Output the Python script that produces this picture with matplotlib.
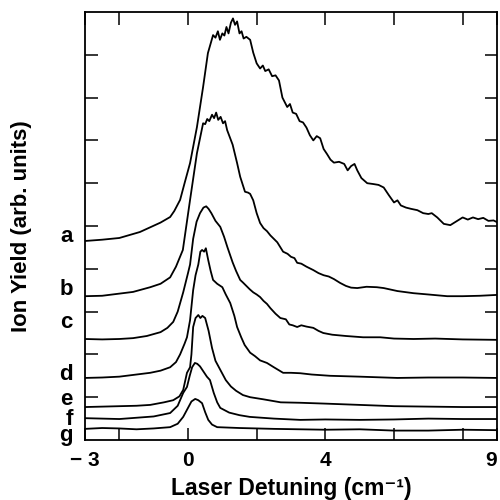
import matplotlib
matplotlib.use("Agg")
import matplotlib.pyplot as plt

# stacked ion-yield traces, offset in arbitrary units (axis 0..1)
a_x = [-3.0, -2.5, -2.0, -1.4, -1.1, -0.8, -0.52, -0.4, -0.23, -0.1, 0.06, 0.26, 0.44, 0.58, 0.73,
       0.8, 0.87, 0.93, 1.0, 1.06, 1.12, 1.18, 1.25, 1.31, 1.37, 1.43, 1.5, 1.56, 1.62, 1.7, 1.81,
       1.9, 2.0, 2.1, 2.18, 2.25, 2.35, 2.45, 2.55, 2.65, 2.75, 2.89, 2.97, 3.05, 3.15, 3.25, 3.35,
       3.45, 3.55, 3.65, 3.75, 3.85, 3.95, 4.05, 4.15, 4.25, 4.4, 4.55, 4.65, 4.75, 4.85, 4.93, 5.05,
       5.22, 5.4, 5.55, 5.7, 5.85, 6.0, 6.1, 6.2, 6.35, 6.5, 6.68, 6.85, 7.0, 7.1, 7.26, 7.45, 7.64,
       7.8, 8.0, 8.15, 8.3, 8.45, 8.6, 8.75, 8.9, 9.0]
a_y = [0.465, 0.468, 0.472, 0.486, 0.497, 0.508, 0.521, 0.535, 0.561, 0.600, 0.647, 0.731, 0.825, 0.904, 0.946,
       0.940, 0.955, 0.935, 0.950, 0.945, 0.965, 0.950, 0.975, 0.985, 0.970, 0.978, 0.950, 0.955, 0.938, 0.942, 0.935,
       0.905, 0.880, 0.868, 0.875, 0.862, 0.866, 0.850, 0.852, 0.840, 0.800, 0.778, 0.785, 0.765, 0.762, 0.745, 0.742,
       0.730, 0.712, 0.700, 0.710, 0.705, 0.680, 0.668, 0.655, 0.648, 0.650, 0.645, 0.630, 0.640, 0.645, 0.630, 0.612,
       0.600, 0.598, 0.596, 0.590, 0.572, 0.555, 0.560, 0.548, 0.543, 0.540, 0.537, 0.530, 0.528, 0.530, 0.520, 0.505, 0.502,
       0.510, 0.520, 0.515, 0.520, 0.516, 0.519, 0.512, 0.513, 0.509]

b_x = [-3.0, -2.5, -2.0, -1.6, -1.1, -0.8, -0.52, -0.35, -0.15, 0.06, 0.26, 0.44,
       0.5, 0.56, 0.62, 0.7, 0.76, 0.82, 0.88, 0.95, 1.02, 1.08, 1.14, 1.3, 1.43, 1.52, 1.66, 1.75, 1.81,
       1.9, 2.0, 2.1, 2.2, 2.3, 2.4, 2.5, 2.6, 2.77, 2.9, 3.0, 3.1, 3.18, 3.3, 3.45, 3.65, 3.8, 3.95,
       4.1, 4.25, 4.43, 4.6, 4.75, 4.93, 5.2, 5.5, 5.7, 6.1, 6.57, 7.0, 7.55, 8.0, 8.5, 9.0]
b_y = [0.336, 0.337, 0.342, 0.346, 0.357, 0.365, 0.380, 0.405, 0.444, 0.561, 0.670, 0.740,
       0.738, 0.750, 0.745, 0.760, 0.752, 0.765, 0.748, 0.755, 0.740, 0.745, 0.724, 0.690, 0.647, 0.615, 0.580, 0.578, 0.575,
       0.560, 0.530, 0.507, 0.495, 0.488, 0.478, 0.470, 0.462, 0.440, 0.435, 0.428, 0.425, 0.414, 0.412, 0.405, 0.397, 0.390, 0.385,
       0.382, 0.376, 0.367, 0.360, 0.356, 0.355, 0.358, 0.357, 0.355, 0.348, 0.343, 0.340, 0.336, 0.336, 0.337, 0.339]

c_x = [-3.0, -2.5, -2.0, -1.6, -1.2, -0.8, -0.6, -0.43, -0.3, -0.14, 0.0, 0.06, 0.15, 0.25, 0.35, 0.45,
       0.53, 0.6, 0.68, 0.8, 0.94, 1.05, 1.15, 1.3, 1.4, 1.52, 1.6, 1.7, 1.8, 1.9, 2.0, 2.1, 2.2, 2.3,
       2.4, 2.55, 2.69, 2.85, 2.95, 3.05, 3.18, 3.3, 3.45, 3.65, 3.8, 3.94, 4.2, 4.6, 5.1, 5.6, 6.0,
       6.57, 7.2, 8.0, 9.0]
c_y = [0.236, 0.235, 0.236, 0.238, 0.243, 0.252, 0.262, 0.276, 0.300, 0.345, 0.390, 0.410, 0.470, 0.510, 0.530, 0.543,
       0.546, 0.540, 0.530, 0.512, 0.498, 0.475, 0.450, 0.415, 0.395, 0.374, 0.368, 0.360, 0.352, 0.345, 0.340, 0.334, 0.325, 0.318,
       0.308, 0.295, 0.285, 0.282, 0.270, 0.268, 0.264, 0.268, 0.265, 0.262, 0.255, 0.250, 0.246, 0.243, 0.240, 0.240, 0.237,
       0.236, 0.237, 0.235, 0.234]

d_x = [-3.0, -2.5, -2.0, -1.6, -1.1, -0.8, -0.52, -0.35, -0.23, -0.1, -0.03, 0.06, 0.15, 0.22, 0.3, 0.36,
       0.41, 0.47, 0.52, 0.59, 0.66, 0.73, 0.85, 1.0, 1.1, 1.23, 1.35, 1.43, 1.55, 1.65, 1.81, 1.95,
       2.1, 2.3, 2.5, 2.77, 3.0, 3.27, 3.6, 4.14, 5.0, 6.1, 7.0, 8.0, 9.0]
d_y = [0.145, 0.146, 0.148, 0.152, 0.157, 0.162, 0.170, 0.182, 0.200, 0.225, 0.240, 0.280, 0.350, 0.385, 0.410, 0.440,
       0.444, 0.440, 0.448, 0.420, 0.395, 0.374, 0.365, 0.357, 0.340, 0.320, 0.290, 0.264, 0.240, 0.222, 0.204, 0.196,
       0.186, 0.180, 0.170, 0.157, 0.157, 0.156, 0.153, 0.150, 0.148, 0.145, 0.146, 0.146, 0.145]

e_x = [-3.0, -2.5, -2.0, -1.5, -1.1, -0.7, -0.43, -0.25, -0.14, -0.03, 0.06, 0.1, 0.15, 0.22, 0.3, 0.36,
       0.42, 0.5, 0.6, 0.7, 0.8, 0.94, 1.1, 1.25, 1.4, 1.6, 1.81, 2.2, 2.7, 3.27, 4.0, 5.0, 6.0, 7.0, 8.0, 9.0]
e_y = [0.077, 0.078, 0.079, 0.080, 0.082, 0.088, 0.093, 0.102, 0.117, 0.157, 0.170, 0.200, 0.264, 0.285, 0.292, 0.285,
       0.290, 0.285, 0.255, 0.215, 0.185, 0.164, 0.140, 0.125, 0.115, 0.105, 0.100, 0.095, 0.088, 0.087, 0.085, 0.082,
       0.079, 0.078, 0.077, 0.077]

f_x = [-3.0, -2.5, -2.0, -1.5, -1.0, -0.52, -0.3, -0.14, -0.03, 0.05, 0.12, 0.2, 0.27, 0.35, 0.45, 0.55,
       0.64, 0.75, 0.85, 0.94, 1.2, 1.5, 1.8, 2.5, 3.27, 4.0, 5.0, 6.0, 7.0, 8.0, 9.0]
f_y = [0.051, 0.050, 0.049, 0.052, 0.055, 0.063, 0.080, 0.110, 0.124, 0.150, 0.170, 0.180, 0.178, 0.172, 0.160, 0.148,
       0.140, 0.110, 0.088, 0.075, 0.064, 0.058, 0.054, 0.050, 0.047, 0.048, 0.047, 0.048, 0.050, 0.049, 0.049]

g_x = [-3.0, -2.5, -2.0, -1.5, -1.0, -0.52, -0.3, -0.14, 0.0, 0.1, 0.21, 0.3, 0.41, 0.5, 0.59, 0.7,
       0.85, 1.5, 2.5, 4.0, 5.0, 6.0, 7.0, 8.0, 9.0]
g_y = [0.026, 0.028, 0.027, 0.025, 0.027, 0.030, 0.038, 0.054, 0.075, 0.090, 0.096, 0.093, 0.086, 0.065, 0.047, 0.036,
       0.030, 0.028, 0.026, 0.024, 0.025, 0.022, 0.022, 0.024, 0.023]

trace_names = ["a", "b", "c", "d", "e", "f", "g"]
# baseline of each trace letter, axes fraction
label_base = [0.463, 0.339, 0.262, 0.140, 0.082, 0.035, -0.003]

x_ticks = [-3, -2, 0, 2, 4, 6, 8, 9]
x_ticklabels = ["\u2212 3", "", "0", "", "4", "", "", "9"]
y_ticks = [0.1, 0.2, 0.3, 0.4, 0.5, 0.6, 0.7, 0.8, 0.9]

plt.rcParams["font.family"] = ["Liberation Sans", "DejaVu Sans"]
plt.rcParams["font.weight"] = "bold"

fig = plt.figure(figsize=(5, 5), dpi=100)
ax = fig.add_axes([0.17, 0.12, 0.824, 0.856])

traces = [(a_x, a_y), (b_x, b_y), (c_x, c_y), (d_x, d_y), (e_x, e_y), (f_x, f_y), (g_x, g_y)]
for xs, ys in traces:
  ax.plot(xs, ys, color="black", lw=1.3, solid_joinstyle="round")

ax.set_xlim(-3, 9)
ax.set_ylim(0, 1)

ax.set_xticks(x_ticks, labels=x_ticklabels)
ax.get_xticklabels()[-1].set_ha("right")
ax.set_yticks(y_ticks, labels=[])
ax.tick_params(direction="in", length=9, width=1.1, top=True, right=True,
    labelsize=15, pad=8)
for side in ax.spines.values():
  side.set_linewidth(1.3)

for name, yy in zip(trace_names, label_base):
  ax.text(-0.03, yy, name, transform=ax.transAxes, ha="right", va="baseline",
      fontsize=16, fontweight="bold")

ax.set_xlabel("Laser Detuning (cm\u207b\u00b9)", fontsize=16.5, fontweight="bold", labelpad=5)
ax.set_ylabel("Ion Yield (arb. units)", fontsize=16, fontweight="bold", labelpad=30)

fig.savefig("out.png", dpi=100)
